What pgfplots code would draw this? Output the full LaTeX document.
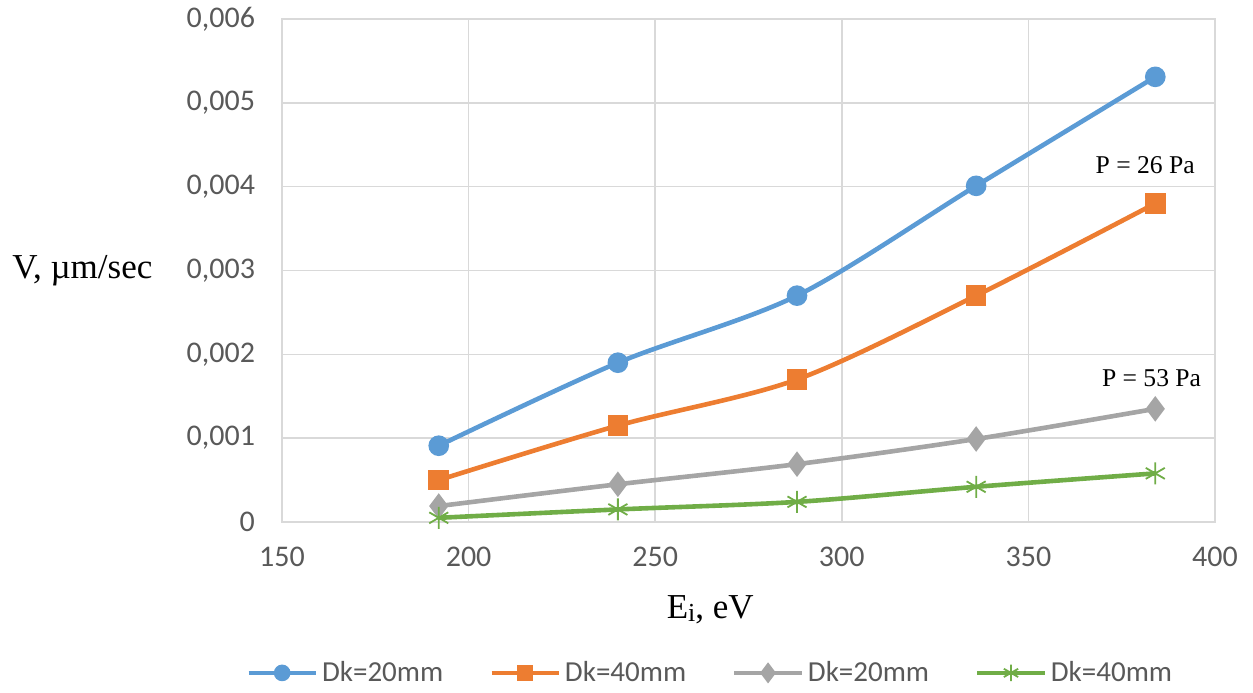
\documentclass[border=0pt]{standalone}
\usepackage{pgfplots}
\pgfplotsset{compat=1.18}
\usepackage{fontspec}
\setmainfont{Liberation Serif}
\newfontfamily\carlito{Carlito}
\definecolor{cblue}{HTML}{5B9BD5}
\definecolor{corange}{HTML}{ED7D31}
\definecolor{cgray}{HTML}{A5A5A5}
\definecolor{cgreen}{HTML}{70AD47}
\definecolor{gridc}{HTML}{D9D9D9}
\definecolor{tickc}{HTML}{595959}
\begin{document}
\begin{tikzpicture}
\begin{axis}[
  at={(141pt,83.5pt)}, anchor=south west,
  scale only axis, width=466.5pt, height=251.5pt,
  xmin=150, xmax=400, ymin=0, ymax=0.006,
  xtick={150,200,250,300,350,400},
  ytick={0,0.001,0.002,0.003,0.004,0.005,0.006},
  yticklabels={0,{0,001},{0,002},{0,003},{0,004},{0,005},{0,006}},
  scaled y ticks=false,
  /pgf/number format/assume math mode=true,
  tick label style={font=\carlito\fontsize{15}{18}\selectfont, text=tickc},
  xticklabel style={yshift=-9pt},
  yticklabel style={xshift=-10pt},
  major tick length=0pt,
  grid=major,
  major grid style={gridc, line width=0.8pt},
  axis line style={gridc, line width=0.8pt},
  xlabel={E\raisebox{-0.15ex}{\fontsize{13}{15}\selectfont i}, eV},
  xlabel style={font=\fontsize{17.5}{20}\selectfont, at={(axis description cs:0.459,-0.175)}, anchor=center},
  ylabel={V, \textmu m/sec},
  ylabel style={font=\fontsize{17.5}{20}\selectfont, rotate=-90, at={(axis description cs:-0.214,0.5)}, anchor=center},
  legend columns=4,
  legend style={at={(axis description cs:0.46,-0.300)}, anchor=center, draw=none,
    font=\carlito\fontsize{14.5}{17}\selectfont, text=tickc,
    /tikz/every even column/.append style={column sep=21pt}},
  legend image code/.code={\draw[mark repeat=2,mark phase=2, every mark/.append style={scale=0.75}] plot coordinates {(0cm,0cm)(0.59cm,0cm)(1.18cm,0cm)};},
  every axis plot/.append style={line width=2.3pt, smooth, tension=0.5},
]
\addplot[cblue, mark=*, mark size=4pt] coordinates {
  (192,0.00091) (240,0.0019) (288,0.0027) (336,0.00401) (384,0.00531)};
\addlegendentry{Dk=20mm}
\addplot[corange, mark=square*, mark size=4pt] coordinates {
  (192,0.0005) (240,0.00115) (288,0.0017) (336,0.0027) (384,0.0038)};
\addlegendentry{Dk=40mm}
\addplot[cgray, mark=diamond*, mark size=4.5pt] coordinates {
  (192,0.00019) (240,0.00045) (288,0.00069) (336,0.00099) (384,0.00135)};
\addlegendentry{Dk=20mm}
\addplot[cgreen, mark=asterisk, mark size=5.5pt, mark options={line width=0.9pt}] coordinates {
  (192,0.00005) (240,0.00015) (288,0.00024) (336,0.00042) (384,0.00058)};
\addlegendentry{Dk=40mm}
\node[font=\fontsize{12.8}{15}\selectfont] at (axis cs:381.3,0.00426) {P = 26 Pa};
\node[font=\fontsize{12.8}{15}\selectfont] at (axis cs:383,0.00172) {P = 53 Pa};
\end{axis}
\path[use as bounding box] (0,0) rectangle (626.5pt,344.5pt);
\end{tikzpicture}
\end{document}
